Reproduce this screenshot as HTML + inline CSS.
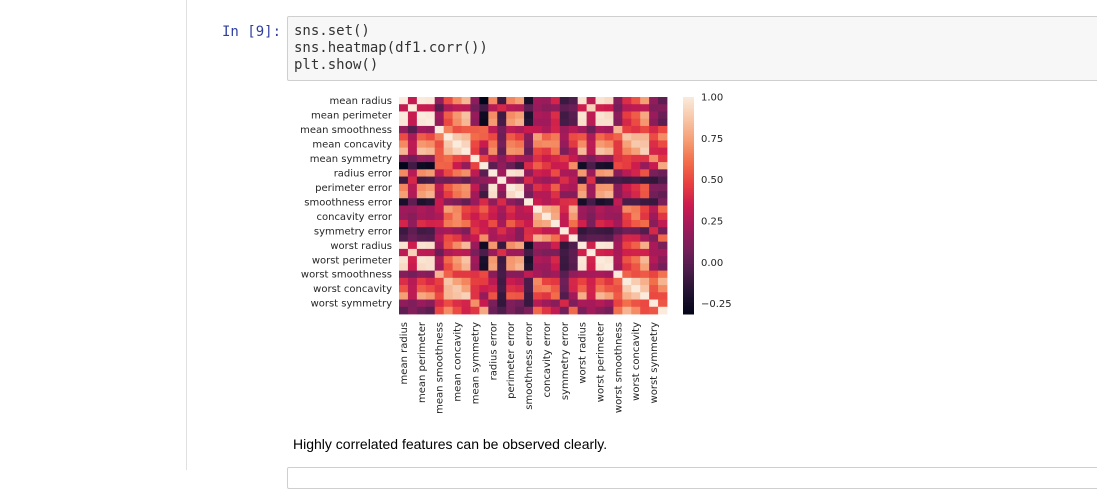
<!DOCTYPE html>
<html><head><meta charset="utf-8"><style>
body{margin:0;width:1097px;height:470px;background:#fff;overflow:hidden;position:relative;font-family:"DejaVu Sans","Liberation Sans",sans-serif}
.vline{position:absolute;left:186px;top:0;width:1px;height:470px;background:#e0e0e0}
.prompt{position:absolute;left:222px;top:24px;font:14px "DejaVu Sans Mono","Liberation Mono",monospace;color:#303F9F}
.cell{position:absolute;left:287px;top:16px;width:820px;height:63px;background:#f7f7f7;border:1px solid #cfcfcf;border-radius:2px}
.code{position:absolute;left:294px;top:23px;font:14px/17px "DejaVu Sans Mono","Liberation Mono",monospace;color:#333;white-space:pre}
.txt{position:absolute;left:293px;top:436px;font:14px "Liberation Sans",sans-serif;color:#000}
.cell2{position:absolute;left:287px;top:467px;width:820px;height:20px;border:1px solid #cfcfcf;border-radius:2px}
</style></head><body>
<div class="vline"></div>
<div class="prompt">In [9]:</div>
<div class="cell"></div>
<div class="code">sns.set()
sns.heatmap(df1.corr())
plt.show()</div>
<svg id="chart" style="position:absolute;left:0;top:0" width="1097" height="470"></svg>
<div class="txt">Highly correlated features can be observed clearly.</div>
<div class="cell2"></div>
<script>
const features=["mean radius","mean texture","mean perimeter","mean area","mean smoothness","mean compactness","mean concavity","mean concave points","mean symmetry","mean fractal dimension","radius error","texture error","perimeter error","area error","smoothness error","compactness error","concavity error","concave points error","symmetry error","fractal dimension error","worst radius","worst texture","worst perimeter","worst area","worst smoothness","worst compactness","worst concavity","worst concave points","worst symmetry","worst fractal dimension"];
const corr=[
[1,.32,.998,.987,.17,.51,.68,.82,.15,-.31,.68,-.10,.67,.74,-.22,.21,.19,.38,-.10,-.04,.97,.30,.97,.94,.12,.41,.53,.74,.16,.01],
[.32,1,.33,.32,-.02,.24,.30,.29,.07,-.08,.28,.39,.28,.26,.01,.19,.14,.16,.01,.05,.35,.91,.36,.34,.08,.28,.30,.30,.11,.12],
[.998,.33,1,.987,.21,.56,.72,.85,.18,-.26,.69,-.09,.69,.74,-.20,.25,.23,.41,-.08,-.01,.97,.30,.97,.94,.15,.46,.56,.77,.19,.05],
[.987,.32,.987,1,.18,.50,.69,.82,.15,-.28,.73,-.07,.73,.80,-.17,.21,.21,.37,-.07,-.02,.96,.29,.96,.96,.12,.39,.51,.72,.14,.00],
[.17,-.02,.21,.18,1,.66,.52,.55,.56,.58,.30,.07,.30,.25,.33,.32,.25,.38,.20,.28,.21,.04,.24,.21,.81,.47,.43,.50,.39,.50],
[.51,.24,.56,.50,.66,1,.88,.83,.60,.57,.50,.05,.55,.46,.14,.74,.57,.64,.23,.51,.54,.25,.59,.51,.57,.87,.82,.82,.51,.69],
[.68,.30,.72,.69,.52,.88,1,.92,.50,.34,.63,.08,.66,.62,.10,.67,.69,.68,.18,.45,.69,.30,.73,.68,.45,.75,.88,.86,.41,.51],
[.82,.29,.85,.82,.55,.83,.92,1,.46,.17,.70,.02,.71,.69,.03,.49,.44,.62,.10,.26,.83,.29,.86,.81,.45,.67,.75,.91,.38,.37],
[.15,.07,.18,.15,.56,.60,.50,.46,1,.48,.30,.13,.31,.22,.19,.42,.34,.39,.45,.33,.19,.09,.22,.18,.43,.47,.43,.43,.70,.44],
[-.31,-.08,-.26,-.28,.58,.57,.34,.17,.48,1,.00,.16,.04,-.09,.40,.56,.45,.34,.35,.69,-.25,-.05,-.21,-.23,.50,.46,.35,.18,.33,.77],
[.68,.28,.69,.73,.30,.50,.63,.70,.30,.00,1,.21,.97,.95,.16,.36,.33,.51,.24,.23,.72,.19,.72,.75,.14,.29,.38,.53,.09,.05],
[-.10,.39,-.09,-.07,.07,.05,.08,.02,.13,.16,.21,1,.22,.11,.40,.23,.19,.23,.41,.28,-.11,.41,-.10,-.08,-.07,-.09,-.07,-.12,-.13,-.05],
[.67,.28,.69,.73,.30,.55,.66,.71,.31,.04,.97,.22,1,.94,.15,.42,.36,.56,.27,.24,.70,.20,.72,.73,.13,.34,.42,.55,.11,.09],
[.74,.26,.74,.80,.25,.46,.62,.69,.22,-.09,.95,.11,.94,1,.08,.28,.27,.42,.13,.13,.76,.20,.76,.81,.13,.28,.39,.54,.07,.02],
[-.22,.01,-.20,-.17,.33,.14,.10,.03,.19,.40,.16,.40,.15,.08,1,.34,.27,.33,.41,.43,-.23,-.07,-.22,-.18,.31,-.06,-.06,-.10,-.11,.10],
[.21,.19,.25,.21,.32,.74,.67,.49,.42,.56,.36,.23,.42,.28,.34,1,.80,.74,.39,.80,.20,.14,.26,.20,.23,.68,.64,.48,.28,.59],
[.19,.14,.23,.21,.25,.57,.69,.44,.34,.45,.33,.19,.36,.27,.27,.80,1,.77,.31,.73,.19,.10,.23,.19,.17,.48,.66,.44,.20,.44],
[.38,.16,.41,.37,.38,.64,.68,.62,.39,.34,.51,.23,.56,.42,.33,.74,.77,1,.31,.61,.36,.09,.39,.34,.22,.45,.55,.60,.14,.31],
[-.10,.01,-.08,-.07,.20,.23,.18,.10,.45,.35,.24,.41,.27,.13,.41,.39,.31,.31,1,.37,-.13,-.08,-.10,-.11,-.01,.06,.04,-.03,.39,.08],
[-.04,.05,-.01,-.02,.28,.51,.45,.26,.33,.69,.23,.28,.24,.13,.43,.80,.73,.61,.37,1,-.04,-.00,-.00,-.02,.17,.39,.38,.22,.11,.59],
[.97,.35,.97,.96,.21,.54,.69,.83,.19,-.25,.72,-.11,.70,.76,-.23,.20,.19,.36,-.13,-.04,1,.36,.99,.98,.22,.48,.57,.79,.24,.09],
[.30,.91,.30,.29,.04,.25,.30,.29,.09,-.05,.19,.41,.20,.20,-.07,.14,.10,.09,-.08,-.00,.36,1,.37,.35,.23,.36,.37,.36,.23,.22],
[.97,.36,.97,.96,.24,.59,.73,.86,.22,-.21,.72,-.10,.72,.76,-.22,.26,.23,.39,-.10,-.00,.99,.37,1,.98,.24,.53,.62,.82,.27,.14],
[.94,.34,.94,.96,.21,.51,.68,.81,.18,-.23,.75,-.08,.73,.81,-.18,.20,.19,.34,-.11,-.02,.98,.35,.98,1,.21,.44,.54,.75,.21,.08],
[.12,.08,.15,.12,.81,.57,.45,.45,.43,.50,.14,-.07,.13,.13,.31,.23,.17,.22,-.01,.17,.22,.23,.24,.21,1,.57,.52,.55,.49,.62],
[.41,.28,.46,.39,.47,.87,.75,.67,.47,.46,.29,-.09,.34,.28,-.06,.68,.48,.45,.06,.39,.48,.36,.53,.44,.57,1,.89,.80,.61,.81],
[.53,.30,.56,.51,.43,.82,.88,.75,.43,.35,.38,-.07,.42,.39,-.06,.64,.66,.55,.04,.38,.57,.37,.62,.54,.52,.89,1,.86,.53,.69],
[.74,.30,.77,.72,.50,.82,.86,.91,.43,.18,.53,-.12,.55,.54,-.10,.48,.44,.60,-.03,.22,.79,.36,.82,.75,.55,.80,.86,1,.50,.51],
[.16,.11,.19,.14,.39,.51,.41,.38,.70,.33,.09,-.13,.11,.07,-.11,.28,.20,.14,.39,.11,.24,.23,.27,.21,.49,.61,.53,.50,1,.54],
[.01,.12,.05,.00,.50,.69,.51,.37,.44,.77,.05,-.05,.09,.02,.10,.59,.44,.31,.08,.59,.09,.22,.14,.08,.62,.81,.69,.51,.54,1]];
const cbTicks=[1.00,0.75,0.50,0.25,0.00,-0.25];
const vmin=-0.312, vmax=1.0;
const NS="http://www.w3.org/2000/svg";
const svg=document.getElementById('chart');
const X0=399,X1=667,Y0=97,Y1=314,n=features.length;
const cw=(X1-X0)/n, ch=(Y1-Y0)/n;
const stops=[[0,[3,5,26]],[.1,[34,19,49]],[.2,[76,29,75]],[.3,[118,31,90]],[.4,[161,26,91]],[.5,[203,27,79]],[.6,[232,63,63]],[.7,[242,110,75]],[.8,[245,158,116]],[.9,[247,198,167]],[1,[250,235,221]]];
function cmap(v){let t=(v-vmin)/(vmax-vmin);t=Math.max(0,Math.min(1,t));
for(let i=1;i<stops.length;i++){if(t<=stops[i][0]){const a=stops[i-1],b=stops[i];const f=(t-a[0])/(b[0]-a[0]);
return 'rgb('+a[1].map((c,k)=>Math.round(c+(b[1][k]-c)*f)).join(',')+')';}}return 'rgb(250,235,221)';}
function mk(tag,attrs){const e=document.createElementNS(NS,tag);for(const k in attrs)e.setAttribute(k,attrs[k]);svg.appendChild(e);return e;}
for(let i=0;i<n;i++)for(let j=0;j<n;j++){
 const r=mk('rect',{x:X0+j*cw,y:Y0+i*ch,width:cw+0.4,height:ch+0.4,fill:cmap(corr[i][j])});
 
 
}
for(let i=0;i<n;i+=2){
 const t=mk('text',{x:392,y:Y0+(i+0.5)*ch+3.5,'text-anchor':'end','font-size':'10','fill':'#262626'});
 t.textContent=features[i];
 
 
 const cx=X0+(i+0.5)*cw;
 const c=mk('text',{x:0,y:0,'text-anchor':'end','font-size':'10','fill':'#262626',transform:'translate('+(cx+3.5)+',322) rotate(-90)'});
 c.textContent=features[i];
 
 
}
const CBX=683,CBW=11,CBH=Y1-Y0;
const steps=100;
for(let k=0;k<steps;k++){
 const v=vmax-(k+0.5)/steps*(vmax-vmin);
 const r=mk('rect',{x:CBX,y:Y0+k*CBH/steps,width:CBW,height:CBH/steps+0.5,fill:cmap(v)});
 
 
}
cbTicks.forEach(v=>{
 const y=Y0+(vmax-v)/(vmax-vmin)*CBH;
 const t=mk('text',{x:701,y:y+3.5,'font-size':'10','fill':'#262626'});
 t.textContent=v<0?'\u2212'+Math.abs(v).toFixed(2):v.toFixed(2);
 
 
});
</script>
</body></html>
